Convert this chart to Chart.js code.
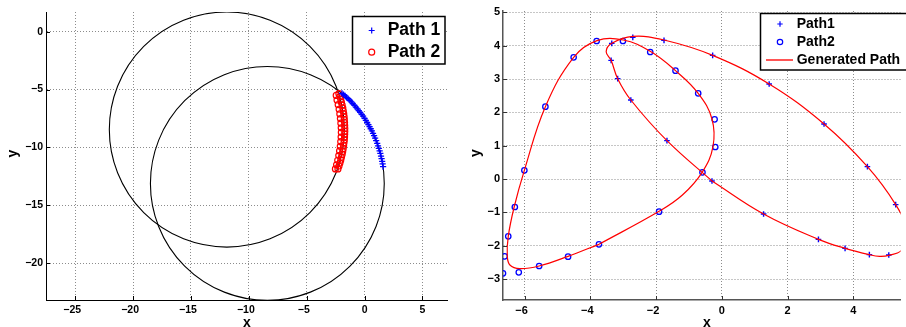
<!DOCTYPE html>
<html>
<head>
<meta charset="utf-8">
<script src="https://cdn.jsdelivr.net/npm/chart.js@4"></script>
<style>
  html, body { margin: 0; padding: 0; background: #fff; overflow: hidden; }
  #wrap { position: relative; width: 906px; height: 327px; }
  canvas { position: absolute; top: 0; }
  #left { left: 0; }
  #right { left: 453px; }
</style>
</head>
<body>
<div id="wrap">
  <canvas id="left" width="453" height="327"></canvas>
  <canvas id="right" width="453" height="327"></canvas>
</div>
<script>
// ---------- LEFT PLOT DATA ----------
const circleCx = [-11.9, -8.4];
const circleCy = [-8.45, -13.1];
const circleR = [10.15, 10.1];

const leftXTicks = [-25, -20, -15, -10, -5, 0, 5];
const leftYTicks = [0, -5, -10, -15, -20];

const path1X = [-1.95, -1.82, -1.68, -1.55, -1.42, -1.28, -1.15, -1.02, -0.88, -0.75, -0.62, -0.50,
  -0.38, -0.25, -0.13, 0.00, 0.11, 0.22, 0.33, 0.43, 0.53, 0.63, 0.73, 0.82, 0.91, 1.00, 1.09,
  1.16, 1.23, 1.30, 1.36, 1.42, 1.47, 1.52, 1.56, 1.60];
const path1Y = [-5.33, -5.43, -5.55, -5.67, -5.79, -5.92, -6.06, -6.20, -6.36, -6.51, -6.66, -6.81,
  -6.97, -7.14, -7.30, -7.49, -7.65, -7.84, -8.02, -8.20, -8.38, -8.57, -8.78, -8.98, -9.19, -9.41, -9.64,
  -9.86, -10.08, -10.29, -10.51, -10.75, -10.97, -11.20, -11.42, -11.65];

const path2X = [-2.22, -2.14, -2.06, -2.00, -1.94, -1.88, -1.84, -1.80, -1.77, -1.75, -1.73, -1.72,
  -1.71, -1.71, -1.72, -1.73, -1.75, -1.78, -1.81, -1.85, -1.89, -1.94, -2.00, -2.06, -2.13, -2.21, -2.30,
  -2.45, -2.38, -2.28, -2.20, -2.14, -2.09, -2.05, -2.02, -2.01, -2.03, -2.06, -2.10, -2.16, -2.23, -2.32,
  -2.42, -2.52];
const path2Y = [-5.35, -5.60, -5.85, -6.10, -6.35, -6.60, -6.85, -7.10, -7.35, -7.60, -7.85, -8.10,
  -8.35, -8.60, -8.85, -9.10, -9.35, -9.60, -9.85, -10.10, -10.35, -10.60, -10.85, -11.10, -11.35, -11.60, -11.85,
  -5.50, -5.90, -6.30, -6.70, -7.10, -7.50, -7.90, -8.30, -8.70, -9.10, -9.50, -9.90, -10.30, -10.70, -11.10,
  -11.50, -11.85];

// ---------- RIGHT PLOT DATA ----------
const rightXTicks = [-6, -4, -2, 0, 2, 4];
const rightYTicks = [5, 4, 3, 2, 1, 0, -1, -2, -3];

const plusX = [-2.71, -3.35, -3.37, -3.17, -2.77, -1.76, -0.28, 1.44, 3.11, 4.43, 5.29, 5.08, 4.49,
  3.75, 2.94, 1.27, -0.30, -1.67];
const plusY = [4.25, 4.07, 3.56, 3.01, 2.37, 4.16, 3.71, 2.85, 1.65, 0.37, -0.77, -2.28, -2.27,
  -2.08, -1.81, -1.05, -0.06, 1.15];

const ringX = [-3.81, -3.01, -4.51, -2.18, -1.41, -0.72, -0.22, -0.20, -0.59, -1.91, -3.74, -4.68,
  -5.56, -6.18, -6.66, -6.61, -6.50, -6.30, -6.01, -5.37];
const ringY = [4.14, 4.14, 3.65, 3.81, 3.25, 2.57, 1.79, 0.96, 0.20, -0.98, -1.96, -2.33,
  -2.61, -2.80, -2.83, -2.32, -1.72, -0.84, 0.26, 2.17];

// generated path: the small loop and the long loop
const genAX = [-3.74, -1.91, -1.20, -0.60, -0.27, -0.30, -0.72, -1.41, -2.18, -3.00, -3.80, -4.51,
  -5.37, -6.01, -6.32, -6.50, -6.53, -6.45, -6.15, -5.56, -4.68, -3.74];
const genAY = [-1.96, -0.97, -0.48, 0.20, 0.97, 1.80, 2.57, 3.25, 3.83, 4.17, 4.15, 3.65,
  2.17, 0.26, -0.84, -1.72, -2.30, -2.58, -2.69, -2.61, -2.32, -1.96];
const genBX = [-0.30, -1.67, -2.77, -3.17, -3.37, -3.52, -3.35, -2.71, -1.76, -0.28, 1.44, 3.11,
  4.43, 5.29, 5.60, 5.48, 5.08, 4.80, 4.49, 3.75, 2.94, 1.27, -0.30];
const genBY = [-0.06, 1.15, 2.37, 3.01, 3.56, 3.82, 4.07, 4.28, 4.17, 3.71, 2.85, 1.65,
  0.37, -0.77, -1.50, -2.12, -2.29, -2.32, -2.27, -2.08, -1.81, -1.05, -0.06];

const FONT = "'Liberation Sans', Arial, Helvetica, sans-serif";
const BLUE = '#0000ff';
const RED = '#ff0000';

function pts(xs, ys) {
  return xs.map((x, i) => ({ x: x, y: ys[i] }));
}

// negative labels use a real minus sign; x labels get a trailing figure space
function tickText(v, horizontal) {
  if (v < 0) return '\u2212' + Math.abs(v) + (horizontal ? '\u2007' : '');
  return String(v);
}

function scale(min, max, ticks, o) {
  const horizontal = o.position === 'bottom';
  return {
    type: 'linear',
    position: o.position,
    min: min,
    max: max,
    afterBuildTicks: s => { s.ticks = ticks.map(v => ({ value: v })); },
    afterFit: s => { if (horizontal) s.height = o.size; else s.width = o.size; },
    grid: { color: '#8c8c8c', lineWidth: 1, drawTicks: false },
    border: { color: o.axisColor, width: o.axisWidth, dash: [1, 2] },
    ticks: {
      color: '#000',
      padding: o.pad,
      autoSkip: false,
      maxRotation: 0,
      font: { family: FONT, size: o.font, weight: 'bold' },
      callback: v => tickText(v, horizontal)
    }
  };
}

// ---------- PLUGINS ----------
const innerTicks = {
  id: 'innerTicks',
  afterDraw(chart, args, opts) {
    const { ctx, chartArea: a, scales: { x, y } } = chart;
    ctx.save();
    ctx.strokeStyle = opts.color;
    ctx.lineWidth = 1;
    ctx.beginPath();
    x.ticks.forEach(t => {
      const p = Math.round(x.getPixelForValue(t.value)) + 0.5;
      ctx.moveTo(p, a.bottom);
      ctx.lineTo(p, a.bottom - opts.len);
    });
    y.ticks.forEach(t => {
      const p = Math.round(y.getPixelForValue(t.value)) + 0.5;
      ctx.moveTo(a.left, p);
      ctx.lineTo(a.left + opts.len, p);
    });
    ctx.stroke();
    ctx.restore();
  }
};

const axisTitles = {
  id: 'axisTitles',
  afterDraw(chart, args, opts) {
    const ctx = chart.ctx;
    ctx.save();
    ctx.fillStyle = '#000';
    ctx.font = 'bold ' + opts.size + 'px ' + FONT;
    ctx.textAlign = 'center';
    ctx.textBaseline = 'alphabetic';
    ctx.fillText('x', opts.x[0], opts.x[1]);
    ctx.translate(opts.y[0], opts.y[1]);
    ctx.rotate(-Math.PI / 2);
    ctx.fillText('y', 0, 0);
    ctx.restore();
  }
};

const circles = {
  id: 'circles',
  beforeDatasetsDraw(chart) {
    const { ctx, chartArea: a, scales: { x, y } } = chart;
    ctx.save();
    ctx.beginPath();
    ctx.rect(a.left, a.top, a.right - a.left, a.bottom - a.top);
    ctx.clip();
    ctx.strokeStyle = '#000';
    ctx.lineWidth = 1.1;
    circleCx.forEach((cx, i) => {
      const px = x.getPixelForValue(cx);
      const py = y.getPixelForValue(circleCy[i]);
      const rx = Math.abs(x.getPixelForValue(cx + circleR[i]) - px);
      const ry = Math.abs(y.getPixelForValue(circleCy[i] + circleR[i]) - py);
      ctx.beginPath();
      ctx.ellipse(px, py, rx, ry, 0, 0, Math.PI * 2);
      ctx.stroke();
    });
    ctx.restore();
  }
};

function drawSymbol(ctx, row, x, y, o) {
  ctx.strokeStyle = row.color;
  if (row.sym === 'plus') {
    ctx.lineWidth = o.symWidth;
    ctx.beginPath();
    ctx.moveTo(x - o.symSize, y); ctx.lineTo(x + o.symSize, y);
    ctx.moveTo(x, y - o.symSize); ctx.lineTo(x, y + o.symSize);
    ctx.stroke();
  } else if (row.sym === 'circle') {
    ctx.lineWidth = o.symWidth;
    ctx.beginPath();
    ctx.arc(x, y, o.symSize, 0, Math.PI * 2);
    ctx.stroke();
  } else {
    ctx.lineWidth = 2;
    ctx.beginPath();
    ctx.moveTo(o.lineX[0], y); ctx.lineTo(o.lineX[1], y);
    ctx.stroke();
  }
}

const boxLegend = {
  id: 'boxLegend',
  afterDraw(chart, args, o) {
    const ctx = chart.ctx;
    const [bx, by, bw, bh] = o.box;
    ctx.save();
    ctx.fillStyle = '#fff';
    ctx.fillRect(bx, by, bw, bh);
    ctx.strokeStyle = '#000';
    ctx.lineWidth = o.lw;
    ctx.strokeRect(bx, by, bw, bh);
    ctx.font = 'bold ' + o.font + 'px ' + FONT;
    ctx.textBaseline = 'middle';
    o.rows.forEach((row, i) => {
      const y = o.rowY0 + i * o.rowH;
      drawSymbol(ctx, row, o.symX, y, o);
      ctx.fillStyle = '#000';
      ctx.fillText(row.text, o.textX, y);
    });
    ctx.restore();
  }
};

// ---------- LEFT CHART ----------
new Chart(document.getElementById('left'), {
  type: 'scatter',
  data: {
    datasets: [
      {
        label: 'Path 1',
        data: pts(path1X, path1Y),
        pointStyle: 'cross',
        pointRadius: 3.1,
        borderColor: BLUE,
        borderWidth: 1.3
      },
      {
        label: 'Path 2',
        data: pts(path2X, path2Y),
        pointStyle: 'circle',
        pointRadius: 3,
        backgroundColor: 'rgba(0,0,0,0)',
        borderColor: RED,
        borderWidth: 1.2
      }
    ]
  },
  options: {
    responsive: false,
    animation: false,
    devicePixelRatio: 1,
    layout: { padding: { top: 12, right: 4, left: 0, bottom: 0 } },
    scales: {
      x: scale(-27.52, 7.18, leftXTicks, { position: 'bottom', size: 27, pad: 4, font: 10.5, axisColor: '#000', axisWidth: 1 }),
      y: scale(-23.17, 1.70, leftYTicks, { position: 'left', size: 46, pad: 3, font: 10.5, axisColor: '#000', axisWidth: 1 })
    },
    plugins: {
      legend: { display: false },
      tooltip: { enabled: false },
      innerTicks: { len: 4, color: '#000' },
      axisTitles: { size: 14, x: [247, 326.5], y: [17.3, 153.7] },
      boxLegend: {
        box: [352.5, 16.5, 92.5, 47.5], lw: 1.5, font: 17.5,
        rowY0: 30.5, rowH: 21.7, symX: 371.7, textX: 387.7, symSize: 3, symWidth: 1.2,
        rows: [
          { sym: 'plus', color: BLUE, text: 'Path 1' },
          { sym: 'circle', color: RED, text: 'Path 2' }
        ]
      }
    }
  },
  plugins: [circles, innerTicks, axisTitles, boxLegend]
});

// ---------- RIGHT CHART ----------
const genLine = { type: 'line', borderColor: RED, borderWidth: 1.2, pointRadius: 0, tension: 0.4, fill: false };

new Chart(document.getElementById('right'), {
  type: 'scatter',
  data: {
    datasets: [
      Object.assign({ label: 'Generated Path', data: pts(genAX, genAY) }, genLine),
      Object.assign({ label: 'Generated Path', data: pts(genBX, genBY) }, genLine),
      {
        label: 'Path1',
        data: pts(plusX, plusY),
        pointStyle: 'cross',
        pointRadius: 2.8,
        borderColor: BLUE,
        borderWidth: 1.4
      },
      {
        label: 'Path2',
        data: pts(ringX, ringY),
        pointStyle: 'circle',
        pointRadius: 2.7,
        backgroundColor: 'rgba(0,0,0,0)',
        borderColor: BLUE,
        borderWidth: 1.3
      }
    ]
  },
  options: {
    responsive: false,
    animation: false,
    devicePixelRatio: 1,
    layout: { padding: { top: 11, right: 0, left: 0, bottom: 0 } },
    scales: {
      x: scale(-6.66, 5.44, rightXTicks, { position: 'bottom', size: 27, pad: 4, font: 11, axisColor: '#555', axisWidth: 1.5 }),
      y: scale(-3.63, 5.04, rightYTicks, { position: 'left', size: 50, pad: 3, font: 11, axisColor: '#555', axisWidth: 1.5 })
    },
    plugins: {
      legend: { display: false },
      tooltip: { enabled: false },
      innerTicks: { len: 4, color: '#333' },
      axisTitles: { size: 14, x: [254, 326.5], y: [27, 153] },
      boxLegend: {
        box: [307.5, 13.5, 160, 56.5], lw: 1.5, font: 14,
        rowY0: 24, rowH: 18, symX: 327, textX: 343.7, symSize: 2.7, symWidth: 1.2, lineX: [313, 340],
        rows: [
          { sym: 'plus', color: BLUE, text: 'Path1' },
          { sym: 'circle', color: BLUE, text: 'Path2' },
          { sym: 'line', color: '#ff5555', text: 'Generated Path' }
        ]
      }
    }
  },
  plugins: [innerTicks, axisTitles, boxLegend]
});
</script>
</body>
</html>
